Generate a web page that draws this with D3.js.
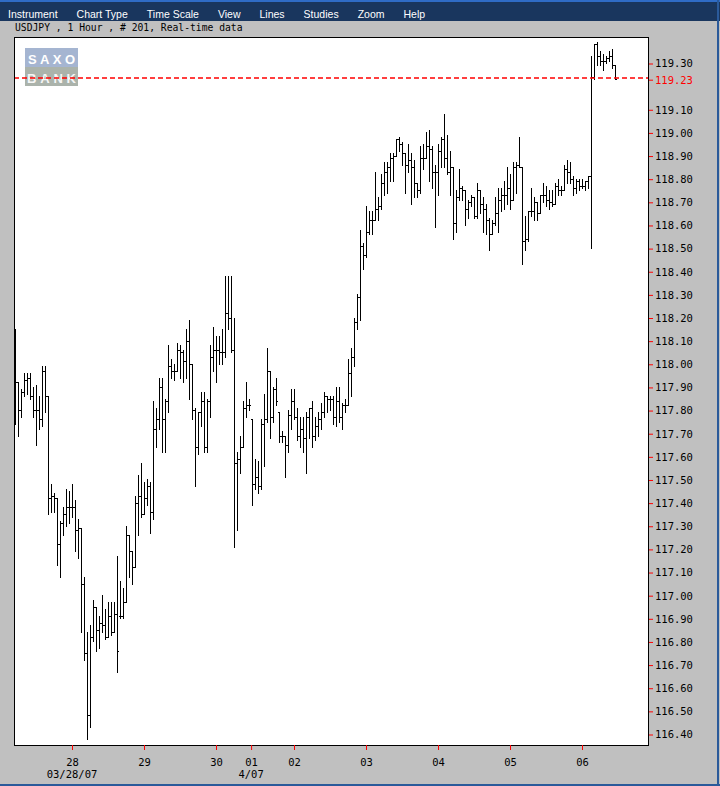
<!DOCTYPE html>
<html>
  <head>
    <meta charset="utf-8">
    <title>USDJPY, 1 Hour</title>
    <script src="https://d3js.org/d3.v7.min.js"></script>
    <style>
      body { margin: 0; background: #c0c0c0; }
      svg { display: block; }
      .menu text { font-family: "Liberation Sans", Arial, sans-serif; font-size: 10.5px; fill: #fff; }
      .mono { font-family: "DejaVu Sans Mono", monospace; font-size: 10.5px; fill: #000; }
      .bar rect { fill: #000; shape-rendering: crispEdges; }
      .logo text { font-family: "Liberation Sans", Arial, sans-serif; font-size: 13px; font-weight: bold; }
    </style>
  </head>
  <body>
    <svg id="chart" width="720" height="786"></svg>
    <script>
      // hourly USDJPY bars, oldest first
      const opens = [
        118.05,117.92,117.80,117.88,117.93,117.94,117.86,117.80,117.80,117.76,
        117.97,117.86,117.42,117.43,117.42,117.22,117.31,117.35,117.38,117.38,
        117.38,117.28,117.29,117.05,116.75,116.48,116.82,116.95,116.85,116.88,
        116.87,116.82,116.91,116.84,116.92,116.91,116.91,116.97,117.26,117.19,
        117.12,117.40,117.43,117.35,117.42,117.47,117.36,117.72,117.76,117.90,
        117.76,117.84,117.99,117.97,117.97,118.06,118.05,118.01,118.10,118.00,
        117.80,117.64,117.79,117.84,117.64,117.84,118.03,118.06,118.06,118.05,
        118.05,118.22,118.20,118.06,117.57,117.59,117.64,117.81,117.82,117.76,
        117.48,117.51,117.47,117.74,117.76,117.97,117.77,117.89,117.79,117.69,
        117.69,117.65,117.78,117.84,117.77,117.69,117.72,117.68,117.77,117.81,
        117.69,117.73,117.76,117.79,117.86,117.85,117.85,117.77,117.84,117.77,
        117.82,117.82,117.96,118.03,118.18,118.29,118.51,118.47,118.57,118.62,
        118.62,118.67,118.68,118.78,118.83,118.85,118.89,118.90,118.97,118.95,
        118.91,118.86,118.88,118.85,118.78,118.75,118.89,118.89,118.94,118.93,
        118.83,118.83,118.92,118.97,118.89,118.83,118.85,118.61,118.72,118.76,
        118.75,118.67,118.70,118.72,118.64,118.75,118.69,118.67,118.62,118.56,
        118.61,118.65,118.71,118.73,118.73,118.76,118.71,118.85,118.86,118.85,
        118.53,118.54,118.66,118.66,118.70,118.65,118.73,118.73,118.71,118.70,
        118.69,118.77,118.75,118.75,118.84,118.83,118.80,118.76,118.79,118.77,
        118.77,118.79,118.81,119.24,119.38,119.33,119.31,119.31,119.32,119.33,
        119.29
      ];
      const highs = [
        118.15,117.92,117.89,117.96,117.96,117.96,117.90,117.91,117.86,117.99,
        117.99,117.86,117.48,117.44,117.42,117.32,117.38,117.46,117.45,117.48,
        117.41,117.33,117.29,117.08,116.84,116.87,116.98,116.95,116.91,117.00,
        116.94,116.97,116.97,116.97,117.17,117.06,117.03,117.30,117.26,117.19,
        117.43,117.52,117.57,117.49,117.50,117.49,117.84,117.81,117.94,117.94,
        117.85,118.08,118.02,118.00,118.09,118.08,118.06,118.15,118.19,118.00,
        117.81,117.79,117.88,117.88,117.85,118.08,118.16,118.12,118.12,118.15,
        118.38,118.38,118.38,118.20,117.62,117.69,117.84,117.92,117.85,117.76,
        117.59,117.58,117.76,117.87,118.07,117.97,117.90,117.94,117.79,117.71,
        117.69,117.80,117.89,117.89,117.81,117.77,117.77,117.79,117.81,117.84,
        117.77,117.79,117.83,117.88,117.86,117.86,117.86,117.90,117.90,117.83,
        117.85,118.02,118.07,118.20,118.30,118.58,118.52,118.68,118.66,118.66,
        118.83,118.72,118.82,118.87,118.87,118.91,118.91,118.97,118.98,118.96,
        118.91,118.95,118.91,118.88,118.78,118.94,118.95,119.00,119.01,118.94,
        118.86,118.95,118.98,119.08,118.99,118.92,118.85,118.75,118.84,118.77,
        118.75,118.71,118.73,118.72,118.78,118.75,118.72,118.69,118.63,118.62,
        118.72,118.76,118.76,118.79,118.85,118.82,118.87,118.87,118.98,118.85,
        118.64,118.66,118.76,118.72,118.70,118.73,118.78,118.77,118.75,118.75,
        118.78,118.80,118.77,118.86,118.88,118.87,118.81,118.80,118.80,118.80,
        118.79,118.81,119.33,119.38,119.39,119.35,119.34,119.33,119.35,119.36,
        119.29
      ];
      const lows = [
        117.74,117.69,117.77,117.86,117.87,117.85,117.77,117.65,117.72,117.73,
        117.79,117.35,117.36,117.36,117.13,117.08,117.26,117.30,117.31,117.34,
        117.19,117.16,116.84,116.72,116.38,116.43,116.80,116.76,116.77,116.84,
        116.81,116.82,116.83,116.84,116.67,116.90,116.90,116.97,117.08,117.05,
        117.12,117.26,117.34,117.35,117.39,117.27,117.33,117.64,117.72,117.62,
        117.62,117.79,117.94,117.93,117.97,117.94,117.92,117.94,117.85,117.76,
        117.47,117.61,117.73,117.62,117.62,117.77,117.97,117.92,118.00,118.00,
        118.03,118.15,118.05,117.21,117.28,117.53,117.64,117.77,117.80,117.39,
        117.46,117.44,117.46,117.56,117.75,117.68,117.75,117.82,117.66,117.66,
        117.51,117.62,117.72,117.76,117.67,117.64,117.62,117.53,117.68,117.64,
        117.67,117.69,117.72,117.77,117.79,117.80,117.74,117.73,117.75,117.72,
        117.79,117.82,117.86,117.99,118.15,118.19,118.41,118.46,118.56,118.56,
        118.62,118.62,118.67,118.73,118.74,118.79,118.79,118.90,118.92,118.86,
        118.74,118.83,118.69,118.72,118.72,118.74,118.84,118.89,118.79,118.76,
        118.59,118.73,118.85,118.85,118.82,118.73,118.54,118.57,118.71,118.71,
        118.60,118.63,118.68,118.63,118.63,118.65,118.57,118.56,118.49,118.56,
        118.60,118.57,118.66,118.67,118.69,118.67,118.71,118.74,118.85,118.43,
        118.49,118.53,118.64,118.62,118.62,118.65,118.70,118.68,118.67,118.68,
        118.69,118.73,118.73,118.75,118.78,118.78,118.73,118.74,118.75,118.76,
        118.75,118.76,118.50,119.23,119.29,119.29,119.27,119.30,119.31,119.28,
        119.23
      ];
      const closes = [
        117.92,117.80,117.88,117.93,117.94,117.86,117.80,117.80,117.76,117.97,
        117.86,117.42,117.43,117.42,117.22,117.31,117.35,117.38,117.38,117.38,
        117.28,117.29,117.05,116.75,116.48,116.82,116.95,116.85,116.88,116.87,
        116.82,116.91,116.84,116.92,116.76,116.91,116.97,117.26,117.19,117.12,
        117.40,117.43,117.35,117.42,117.47,117.36,117.72,117.76,117.90,117.76,
        117.84,117.99,117.97,117.97,118.06,118.05,118.01,118.10,118.00,117.80,
        117.64,117.79,117.84,117.64,117.84,118.03,118.06,118.06,118.05,118.05,
        118.22,118.20,118.06,117.57,117.59,117.64,117.81,117.82,117.82,117.48,
        117.51,117.47,117.74,117.76,117.97,117.77,117.89,117.84,117.69,117.69,
        117.65,117.78,117.84,117.77,117.69,117.72,117.68,117.77,117.81,117.69,
        117.73,117.76,117.79,117.86,117.85,117.85,117.77,117.84,117.77,117.82,
        117.82,117.96,118.03,118.18,118.29,118.51,118.47,118.57,118.62,118.62,
        118.67,118.68,118.78,118.83,118.85,118.89,118.90,118.97,118.95,118.91,
        118.86,118.88,118.85,118.78,118.75,118.89,118.89,118.94,118.93,118.83,
        118.83,118.92,118.97,118.89,118.83,118.85,118.61,118.72,118.76,118.75,
        118.67,118.70,118.72,118.64,118.75,118.69,118.67,118.62,118.56,118.61,
        118.65,118.71,118.73,118.73,118.76,118.71,118.85,118.86,118.85,118.53,
        118.54,118.66,118.66,118.70,118.65,118.73,118.73,118.71,118.70,118.69,
        118.77,118.75,118.75,118.84,118.83,118.80,118.76,118.79,118.77,118.77,
        118.79,118.81,119.24,119.38,119.33,119.31,119.31,119.32,119.33,119.29,
        119.23
      ];
      // axis labels
      const dayTicks = [19, 43, 67, 78.7, 93, 117, 141, 165, 189];
      const dayLabels = ["28", "29", "30", "01", "02", "03", "04", "05", "06"];
      const monthTicks = [19, 78.7];
      const monthLabels = ["03/28/07", "4/07"];
      const priceTicks = [116.4, 116.5, 116.6, 116.7, 116.8, 116.9, 117.0, 117.1, 117.2, 117.3,
                          117.4, 117.5, 117.6, 117.7, 117.8, 117.9, 118.0, 118.1, 118.2, 118.3,
                          118.4, 118.5, 118.6, 118.7, 118.8, 118.9, 119.0, 119.1, 119.3];
      const lastPrice = 119.23;
      const menuItems = ["Instrument", "Chart Type", "Time Scale", "View", "Lines", "Studies", "Zoom", "Help"];
      const subtitle = "USDJPY , 1 Hour , # 201, Real-time data";

      svg = d3.select("#chart");
      plot = { left: 14, right: 648, top: 37, bottom: 745 };

      // menu bar
      menu = svg.append("g").classed("menu", true);
      menu.append("rect").attr("width", 720).attr("height", 21).attr("fill", "#19365e");
      menu.append("rect").attr("width", 720).attr("height", 2).attr("fill", "#2f6cc6");
      let mx = 8;
      menuItems.forEach(function(m) {
        let t = menu.append("text").attr("x", mx).attr("y", 18).text(m);
        mx += t.node().getComputedTextLength() + 19;
      });
      svg.append("text").attr("class", "mono").style("font-size", "9.7px")
        .attr("x", 15).attr("y", 31).text(subtitle);

      // window edges
      svg.append("rect").attr("x", 717).attr("width", 2).attr("height", 786).attr("fill", "#2a5a9a");
      svg.append("rect").attr("y", 784).attr("width", 720).attr("height", 2).attr("fill", "#2a5a9a");

      // plot background
      svg.append("rect")
        .attr("x", plot.left).attr("y", plot.top)
        .attr("width", plot.right - plot.left).attr("height", plot.bottom - plot.top)
        .attr("fill", "#fff");

      // logo
      logo = svg.append("g").classed("logo", true).attr("transform", "translate(25,48)");
      logo.append("rect").attr("width", 53).attr("height", 19).attr("fill", "#a5b5d1");
      logo.append("rect").attr("y", 19).attr("width", 53).attr("height", 19).attr("fill", "#abb3ab");
      logo.append("text").attr("x", 3).attr("y", 15.5).attr("textLength", 47).attr("lengthAdjust", "spacing")
        .attr("fill", "#fff").text("SAXO");
      logo.append("text").attr("x", 2).attr("y", 34.5).attr("textLength", 49).attr("lengthAdjust", "spacing")
        .attr("fill", "#f6f6f6").text("BANK");

      // scales
      x = d3.scaleLinear().domain([0, opens.length - 1]).range([15, 615]);
      y = d3.scaleLinear().domain([116.4, 119.3]).range([734.5, 63.5]);

      // OHLC bars
      bars = svg.append("g").classed("bar", true)
        .selectAll("g")
          .data(d3.range(opens.length))
        .enter().append("g");
      function px(v) { return Math.round(y(v) - 0.5); }
      bars.append("rect")
        .attr("x", function(i) { return Math.round(x(i)); })
        .attr("y", function(i) { return px(highs[i]); })
        .attr("width", 1)
        .attr("height", function(i) { return px(lows[i]) - px(highs[i]) + 1; });
      bars.append("rect")
        .attr("x", function(i) { return Math.round(x(i)) - 1; })
        .attr("y", function(i) { return px(opens[i]); })
        .attr("width", 1).attr("height", 1);
      bars.append("rect")
        .attr("x", function(i) { return Math.round(x(i)) + 1; })
        .attr("y", function(i) { return px(closes[i]); })
        .attr("width", 1).attr("height", 1);

      // current price line
      svg.append("line")
        .attr("x1", plot.left).attr("x2", plot.right)
        .attr("y1", px(lastPrice) - 1).attr("y2", px(lastPrice) - 1)
        .style("stroke", "#ff0000")
        .style("stroke-width", 1.5)
        .style("stroke-dasharray", "5,3");

      // frame
      svg.append("rect")
        .attr("x", plot.left + 0.5).attr("y", plot.top + 0.5)
        .attr("width", plot.right - plot.left).attr("height", plot.bottom - plot.top)
        .attr("fill", "none").attr("stroke", "#000");

      // right axis
      yAxis = svg.append("g")
        .attr("transform", "translate(" + (plot.right + 1) + ",0)")
        .call(d3.axisRight(y).tickValues(priceTicks.concat([lastPrice]))
          .tickSize(4).tickPadding(2).tickFormat(d3.format(".2f")));
      yAxis.select(".domain").remove();
      yAxis.selectAll("line").style("stroke", "#ff0000");
      yAxis.selectAll("text").attr("class", "mono").attr("fill", null)
        .filter(function(d) { return d == lastPrice; }).style("fill", "#ff0000");

      // bottom axis
      xAxis = svg.append("g")
        .attr("transform", "translate(0," + plot.bottom + ")")
        .call(d3.axisBottom(x).tickValues(dayTicks).tickSize(5).tickPadding(9)
          .tickFormat(function(d, i) { return dayLabels[i]; }));
      xAxis.select(".domain").remove();
      xAxis.selectAll("line").style("stroke", "#ff0000");
      xAxis.selectAll("text").attr("class", "mono").attr("fill", null);
      svg.append("g").selectAll("text")
          .data(monthTicks)
        .enter().append("text")
          .attr("class", "mono")
          .attr("text-anchor", "middle")
          .attr("x", function(d) { return x(d); })
          .attr("y", 778)
          .text(function(d, i) { return monthLabels[i]; });
    </script>
  </body>
</html>
